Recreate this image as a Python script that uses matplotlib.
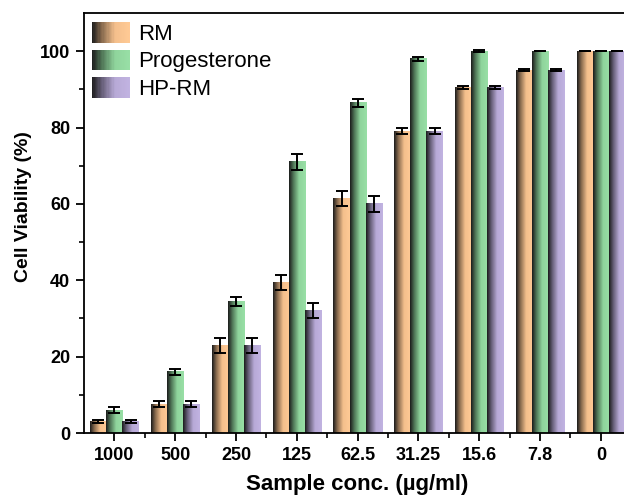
import matplotlib
matplotlib.use('Agg')
import matplotlib.pyplot as plt
import numpy as np
from matplotlib.colors import LinearSegmentedColormap, to_rgb
from matplotlib.legend_handler import HandlerBase
from matplotlib.patches import Rectangle

plt.rcParams['font.family'] = ['Liberation Sans', 'DejaVu Sans']
plt.rcParams['font.weight'] = 'bold'

concs = ['1000', '500', '250', '125', '62.5', '31.25', '15.6', '7.8', '0']
series = ['RM', 'Progesterone', 'HP-RM']
rm = [3, 7.5, 23, 39.5, 61.5, 79, 90.5, 95, 100]
prog = [6, 16, 34.5, 71, 86.5, 98, 100, 100, 100]
hprm = [3, 7.5, 23, 32, 60, 79, 90.5, 95, 100]
rm_err = [0.5, 0.8, 2, 2, 2, 0.8, 0.5, 0.3, 0]
prog_err = [0.7, 0.7, 1.2, 2, 1, 0.6, 0.3, 0, 0]
hprm_err = [0.5, 0.8, 2, 2, 2.2, 0.8, 0.5, 0.3, 0]
colors = ['#f4bf8c', '#8fd49c', '#b7a9d6']


def make_cmap(c):
    rgb = np.array(to_rgb(c))
    light = np.minimum(rgb * 1.03 + 0.02, 1)
    return LinearSegmentedColormap.from_list('g', [(0, '#1c1c1c'), (0.25, tuple(rgb * 0.55)),
                                                   (0.6, tuple(rgb)), (1, tuple(light))])


class GradHandler(HandlerBase):
    def __init__(self, color):
        super().__init__()
        self.cmap = make_cmap(color)

    def create_artists(self, legend, orig_handle, xdescent, ydescent, width, height, fontsize, trans):
        n = 30
        arts = []
        for i in range(n):
            r = Rectangle((-xdescent + width * i / n, -ydescent), width / n * 1.05, height,
                          facecolor=self.cmap((i + 0.5) / n), edgecolor='none', transform=trans)
            arts.append(r)
        return arts


fig = plt.figure(figsize=(6.24, 5), dpi=100)
ax = fig.add_axes([0.1346, 0.134, 0.877, 0.84])

x = np.arange(len(concs))
w = 0.265
data = [rm, prog, hprm]
errs = [rm_err, prog_err, hprm_err]
grad = np.linspace(0, 1, 64).reshape(1, -1)
for k in range(3):
    bars = ax.bar(x + (k - 1) * w, data[k], w, color='none', edgecolor='none', zorder=2)
    cm = make_cmap(colors[k])
    for p in bars:
        ax.imshow(grad, cmap=cm, aspect='auto', zorder=2,
                  extent=[p.get_x(), p.get_x() + p.get_width(), 0, p.get_height()])
    ax.errorbar(x + (k - 1) * w, data[k], yerr=errs[k], fmt='none', ecolor='black',
                elinewidth=1.4, capsize=4, capthick=1.4, zorder=3)

ax.set_xlim(-0.5, 8.5)
ax.set_ylim(0, 110)
ax.set_xticks(x)
ax.set_xticklabels(concs)
ax.set_xticks(x[:-1] + 0.5, minor=True)
ax.set_yticks(np.arange(0, 101, 20))
ax.set_yticks(np.arange(10, 101, 20), minor=True)
ax.tick_params(which='major', direction='out', length=6, width=1.3, labelsize=13, pad=4)
ax.tick_params(which='minor', direction='out', length=3.5, width=1.2)
for s in ax.spines.values():
    s.set_linewidth(1.3)

ax.set_ylabel('Cell Viability (%)', fontsize=14, fontweight='bold')
ax.yaxis.set_label_coords(-0.095, 0.54)
ax.set_xlabel('Sample conc. (\u00b5g/ml)', fontsize=16, fontweight='bold', labelpad=7)

handles = [Rectangle((0, 0), 1, 1) for _ in series]
ax.legend(handles, series, loc='upper left', bbox_to_anchor=(0.015, 0.978), frameon=False,
          handlelength=1.7, handleheight=1.05, labelspacing=0.2,
          handletextpad=0.36, borderaxespad=0, borderpad=0,
          handler_map={h: GradHandler(c) for h, c in zip(handles, colors)},
          prop={'weight': 'normal', 'size': 16})

fig.savefig('out.png', dpi=100)
